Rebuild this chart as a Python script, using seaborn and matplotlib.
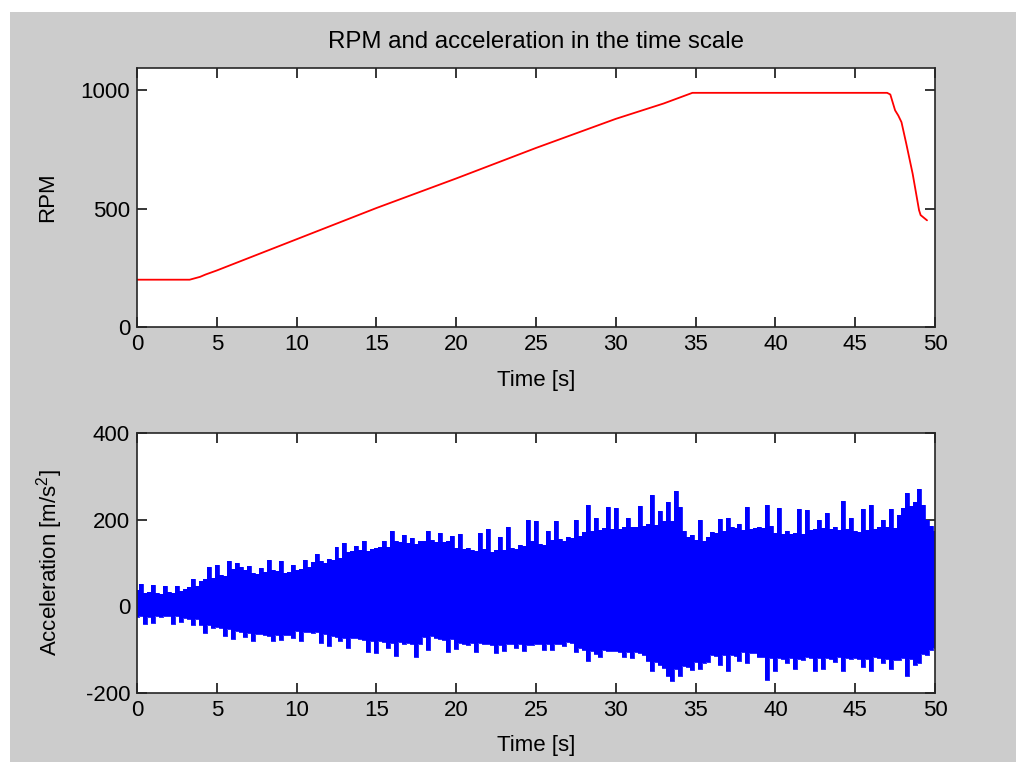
import numpy as np
import pandas as pd
import matplotlib
matplotlib.use("Agg")
import matplotlib.pyplot as plt
import seaborn as sns
from matplotlib.patches import Rectangle

# ---------------- data ----------------
title_text = "RPM and acceleration in the time scale"

rpm_time = [0, 3.3, 3.95, 4.3, 5.0, 10, 15, 20, 25, 30, 33, 34.8,
            47.0, 47.2, 47.5, 47.7, 47.9, 48.2, 48.6, 49.0, 49.1, 49.5]
rpm_value = [200, 200, 212, 222, 239, 371, 503, 628, 757, 880, 945, 990,
             990, 983, 916, 894, 866, 775, 648, 494, 473, 451]

# acceleration: per-quarter-second positive and negative peaks
acc_upper = [
    38, 52, 30, 33,   50, 31, 28, 48,   33, 30, 46, 35,   40, 45, 62, 48,
    58, 62, 90, 66,   95, 72, 70, 105,  86, 100, 90, 84,  92, 78, 74, 88,
    80, 108, 84, 82,  105, 78, 80, 96,  84, 86, 108, 90,  102, 120, 104, 100,
    110, 108, 137, 112, 147, 125, 128, 140, 130, 150, 128, 132, 135, 138, 150, 136,
    174, 150, 148, 165, 146, 158, 145, 150, 150, 174, 152, 148, 170, 148, 150, 162,
    134, 168, 132, 135, 130, 128, 170, 132, 178, 126, 130, 160, 130, 182, 134, 132,
    142, 140, 199, 150, 198, 144, 142, 175, 152, 196, 155, 150, 160, 158, 200, 162,
    172, 233, 175, 205, 176, 180, 230, 178, 228, 178, 182, 205, 184, 182, 232, 186,
    190, 258, 188, 220, 196, 240, 198, 267, 230, 175, 160, 165, 152, 200, 150, 160,
    172, 170, 202, 175, 205, 182, 180, 190, 176, 230, 178, 180, 182, 180, 233, 185,
    170, 226, 168, 175, 166, 170, 225, 168, 222, 176, 178, 200, 180, 215, 178, 182,
    176, 243, 178, 205, 174, 172, 225, 176, 235, 178, 182, 200, 182, 225, 180, 210,
    228, 262, 232, 240, 270, 235, 200, 185, 175,
]
acc_lower = [
    -24, -22, -40, -25,  -38, -23, -24, -22,  -23, -40, -22, -35,  -28, -30, -42, -29,
    -42, -62, -44, -50,  -48, -50, -69, -52,  -75, -58, -60, -70,  -62, -80, -64, -63,
    -66, -68, -80, -67,  -78, -65, -66, -72,  -58, -80, -60, -59,  -62, -60, -85, -63,
    -92, -68, -70, -80,  -72, -95, -74, -73,  -76, -78, -106, -80, -108, -80, -82, -95,
    -84, -115, -82, -86, -85, -88, -118, -87, -70, -100, -68, -72, -75, -78, -105, -76,
    -99, -84, -86, -90,  -84, -105, -85, -86, -88, -90, -108, -89, -104, -86, -88, -95,
    -88, -102, -90, -89, -86, -88, -100, -87, -100, -86, -88, -92, -82, -84, -105, -95,
    -100, -126, -102, -110, -118, -100, -102, -104, -104, -106, -118, -105, -120, -106, -108, -112,
    -125, -150, -128, -135, -142, -160, -172, -145, -160, -138, -140, -148, -128, -145, -130, -129,
    -112, -114, -135, -113, -150, -112, -115, -125, -106, -130, -108, -107, -116, -118, -170, -120,
    -150, -120, -122, -130, -120, -145, -121, -123, -118, -120, -150, -119, -145, -120, -122, -128,
    -118, -150, -119, -121, -120, -122, -140, -121, -150, -118, -120, -130, -122, -145, -124, -123,
    -120, -160, -122, -135, -130, -110, -112, -100, -95,
]
acc_time = [0.25 * i for i in range(len(acc_upper))]

x_ticks = [0, 5, 10, 15, 20, 25, 30, 35, 40, 45, 50]
rpm_ticks = [0, 500, 1000]
acc_ticks = [-200, 0, 200, 400]

# ---------------- style ----------------
sns.set_style("ticks")
plt.rcParams["font.family"] = ["Liberation Sans", "DejaVu Sans"]
plt.rcParams["mathtext.fontset"] = "custom"
plt.rcParams["mathtext.rm"] = "Liberation Sans"
plt.rcParams["mathtext.it"] = "Liberation Sans"
plt.rcParams["text.color"] = "black"
plt.rcParams["axes.labelcolor"] = "black"
plt.rcParams["axes.unicode_minus"] = False
FS = 16

fig = plt.figure(figsize=(10.16, 7.62), dpi=100, facecolor="white")
fig.patches.append(Rectangle((10 / 1016, 0), 1 - 10 / 1016, 1 - 12 / 762,
                             transform=fig.transFigure, facecolor="#cccccc",
                             edgecolor="none", zorder=-10))

ax1 = fig.add_axes([137 / 1016, 1 - 327 / 762, 798 / 1016, 259 / 762])
ax2 = fig.add_axes([137 / 1016, 1 - 693 / 762, 798 / 1016, 260 / 762])

rpm_df = pd.DataFrame({"t": rpm_time, "rpm": rpm_value})
sns.lineplot(data=rpm_df, x="t", y="rpm", ax=ax1, color="#ff0000", lw=1.3)

acc_df = pd.DataFrame({"t": acc_time, "up": acc_upper, "lo": acc_lower})
ax2.fill_between(acc_df["t"], acc_df["lo"], acc_df["up"], step="mid",
                 color="#0000ff", lw=0)
sns.lineplot(data=acc_df, x="t", y="up", ax=ax2, color="#0000ff", lw=0.6,
             drawstyle="steps-mid")
sns.lineplot(data=acc_df, x="t", y="lo", ax=ax2, color="#0000ff", lw=0.6,
             drawstyle="steps-mid")

for ax in (ax1, ax2):
    ax.set_facecolor("white")
    ax.set_xlim(0, 50)
    ax.set_xticks(x_ticks)
    ax.tick_params(direction="in", top=True, right=True, length=7, width=1.1,
                   labelsize=FS, pad=5, colors="black")
    for sp in ax.spines.values():
        sp.set_visible(True)
        sp.set_linewidth(1.2)
        sp.set_color("#262626")
    ax.set_xlabel("Time [s]", fontsize=FS)

ax1.set_ylim(0, 1095)
ax1.set_yticks(rpm_ticks)
ax1.set_ylabel("RPM", fontsize=FS)
ax1.yaxis.set_label_coords(-0.099, 0.5)
ax1.xaxis.set_label_coords(0.5, -0.166)

ax2.set_ylim(-200, 400)
ax2.set_yticks(acc_ticks)
ax2.set_ylabel("Acceleration [m/s$^2$]", fontsize=FS)
ax2.yaxis.set_label_coords(-0.090, 0.5)
ax2.xaxis.set_label_coords(0.5, -0.16)

ax1.text(0.5, (327 - 42) / 259, title_text, transform=ax1.transAxes,
         ha="center", va="center", fontsize=17.3)

fig.savefig("out.png", dpi=100, facecolor=fig.get_facecolor())
